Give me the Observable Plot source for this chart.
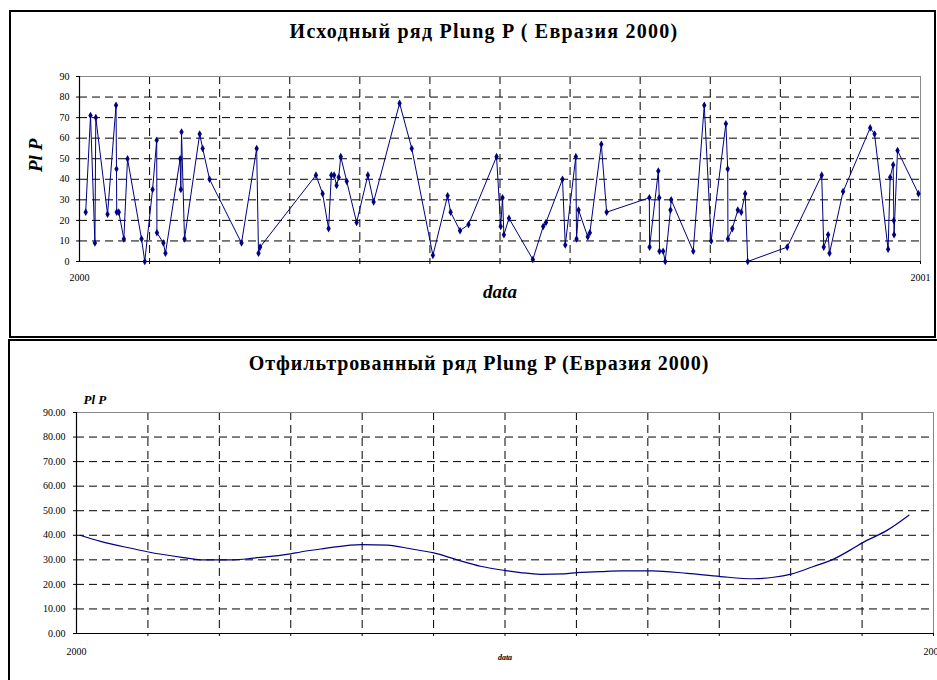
<!DOCTYPE html>
<html><head><meta charset="utf-8">
<script src="https://cdn.jsdelivr.net/npm/d3@7"></script>
<script src="https://cdn.jsdelivr.net/npm/@observablehq/plot@0.6"></script>
<style>
html,body{margin:0;padding:0;background:#fff;overflow:hidden;width:937px;height:680px;}
#root{position:relative;width:937px;height:680px;overflow:hidden;font-family:"Liberation Serif","Times New Roman",serif;}
.box{position:absolute;border:2px solid #000;box-sizing:border-box;}
.title{position:absolute;font-weight:bold;white-space:nowrap;transform:translateX(-50%);line-height:1;color:#000;font-size:20px;}
.chart{position:absolute;}
.chart svg{max-width:none;overflow:visible;}
</style></head><body><div id="root">
<div class="box" style="left:9px;top:10px;width:927px;height:328px"></div>
<div class="box" style="left:8px;top:339px;width:960px;height:350px"></div>
<div id="t1" class="title" style="left:484px;top:21px;letter-spacing:1.25px"></div>
<div id="t2" class="title" style="left:479px;top:353px;letter-spacing:0.95px"></div>
<div id="c1" class="chart" style="left:10px;top:11px"></div>
<div id="c2" class="chart" style="left:9px;top:341px"></div>
</div>
<script>
const title1 = "Исходный ряд Plung P ( Евразия 2000)";
const title2 = "Отфильтрованный ряд Plung P (Евразия 2000)";
const yLabel = "Pl P";
const xLabel = "data";
const xTickDays = [0, 366];
const xTickLabels = ["2000", "2001"];
const gridDays = [30.5, 61, 91.5, 122, 152.5, 183, 213.5, 244, 274.5, 305, 335.5];
const yTicks = [0, 10, 20, 30, 40, 50, 60, 70, 80, 90];
const yGrid = [10, 20, 30, 40, 50, 60, 70, 80];

// raw series: day of year 2000, value
const topDays = [2.7,4.8,6.7,7.1,12.2,15.9,16.1,16.2,17.1,19.3,
  20.9,27.0,28.4,31.8,33.6,33.7,36.5,37.4,43.8,44.1,
  44.4,45.7,52.3,53.6,56.6,70.5,77.1,77.9,78.6,102.9,
  105.8,108.4,109.6,110.8,111.9,112.8,113.7,116.3,120.6,125.5,
  128.0,139.3,144.6,153.8,160.2,161.5,165.6,169.3,181.5,183.3,
  184.1,184.7,186.9,197.3,201.8,203.0,210.2,211.4,216.0,216.3,
  217.2,221.2,222.1,227.1,229.4,248.0,248.1,251.9,252.3,252.4,
  254.0,254.9,257.2,257.5,267.1,271.9,274.9,281.3,282.1,282.2,
  284.1,286.5,288.0,289.7,290.8,308.0,323.0,323.9,325.8,326.4,
  332.3,344.1,346.0,351.9,352.8,354.1,354.4,354.5,356.0,365.1];
const topValues = [24,71,9,70,23,76,45,24,24,11,
  50,11,0,35,59,14,9,4,50,35,
  63,11,62,55,40,9,55,4,7,42,
  33,16,42,42,37,41,51,39,19,42,
  29,77,55,3,32,24,15,18,51,17,
  31,13,21,1,17,19,40,8,51,11,
  25,12,14,57,24,31,7,44,31,5,
  5,0,25,30,5,76,10,67,45,11,
  16,25,24,33,0,7,42,7,13,4,
  34,65,62,6,41,47,20,13,54,33];

// filtered series
const filtDays = [1.5,10.3,24.3,30.2,45.7,53,67,75.6,91.4,95.7,
  104.2,109.8,122,132.7,142.7,152.6,162.6,172.5,182.8,189.6,
  198.2,208.1,213.8,223.8,232.3,240.9,245.9,260.8,275,289.1,
  297.7,305.2,314.8,323.3,331.9,335.4,346.3,355.5];
const filtValues = [40.0,37.5,34.5,33.3,30.9,30.0,30.0,30.7,32.4,33.2,
  34.4,35.2,36.2,36.0,34.5,32.8,30.0,27.4,25.7,24.8,
  24.1,24.3,24.8,25.2,25.5,25.5,25.5,24.5,23.2,22.3,
  22.9,24.2,27.3,30.3,34.8,36.8,42.1,48.2];

const topData = topDays.map((d, i) => ({day: d, value: topValues[i]}));
const filtData = filtDays.map((d, i) => ({day: d, value: filtValues[i]}));
const navy = "#000080";
const dash = "8,5";
const serif = "'Liberation Serif', 'Times New Roman', serif";
const labelFor = d => xTickLabels[xTickDays.indexOf(d)];

document.getElementById("t1").textContent = title1;
document.getElementById("t2").textContent = title2;

const commonMarks = (fmt, opts) => [
  Plot.ruleY(yGrid, {stroke: "#000", strokeDasharray: dash, strokeWidth: 1}),
  Plot.ruleX(gridDays, {stroke: "#000", strokeDasharray: dash, strokeWidth: 1}),
  Plot.ruleY([90], {stroke: "#888", strokeWidth: 1}),
  Plot.ruleX([366], {stroke: "#888", strokeWidth: 1}),
  Plot.axisY({ticks: yTicks, tickFormat: fmt, tickSize: 3, tickPadding: opts.yPad, fontSize: opts.yFont, fontFamily: serif, label: null}),
  Plot.axisX({ticks: gridDays.concat([366]), tickFormat: () => "", tickSize: 3, label: null}),
  Plot.axisX({ticks: xTickDays, tickFormat: labelFor, tickSize: 0, tickPadding: opts.xPad, fontSize: opts.xFont, fontFamily: serif, label: null}),
  Plot.ruleY([0], {stroke: "#000", strokeWidth: 1.2}),
  Plot.ruleX([0], {stroke: "#000", strokeWidth: 1.2})
];

const p1 = Plot.plot({
  width: 925, height: 326,
  marginLeft: 69, marginRight: 15, marginTop: 65, marginBottom: 76,
  style: {fontFamily: serif, fontSize: "10px", background: "transparent", overflow: "visible"},
  x: {type: "linear", domain: [0, 366]},
  y: {domain: [0, 90]},
  marks: [
    ...commonMarks(d => String(d), {yPad: 7, yFont: 10, xPad: 12, xFont: 10}),
    Plot.line(topData, {x: "day", y: "value", stroke: navy, strokeWidth: 1}),
    Plot.dot(topData, {x: "day", y: "value", symbol: "diamond", r: 2.3, fill: navy, stroke: "none"}),
    Plot.text([xLabel], {frameAnchor: "bottom", dy: 36, fontSize: 19, fontWeight: "bold", fontStyle: "italic", fontFamily: serif}),
    Plot.text([yLabel], {frameAnchor: "left", dx: -44, dy: 3, rotate: -90, fontSize: 19, fontWeight: "bold", fontStyle: "italic", fontFamily: serif})
  ]
});
document.getElementById("c1").appendChild(p1);

const p2 = Plot.plot({
  width: 928, height: 338,
  marginLeft: 67, marginRight: 4, marginTop: 71, marginBottom: 46,
  style: {fontFamily: serif, fontSize: "10px", background: "transparent", overflow: "visible"},
  x: {type: "linear", domain: [0, 366]},
  y: {domain: [0, 90]},
  marks: [
    ...commonMarks(d3.format(".2f"), {yPad: 8, yFont: 10, xPad: 14, xFont: 10}),
    Plot.line(filtData, {x: "day", y: "value", stroke: navy, strokeWidth: 1.2, curve: "monotone-x"}),
    Plot.text([xLabel], {frameAnchor: "bottom", dy: 26, fontSize: 8, fontWeight: "bold", fontStyle: "italic", fontFamily: serif, fill: "#000"}),
    Plot.text([yLabel], {frameAnchor: "top-left", dx: 7, dy: -18, fontSize: 13, fontWeight: "bold", fontStyle: "italic", fontFamily: serif})
  ]
});
document.getElementById("c2").appendChild(p2);
</script></body></html>
